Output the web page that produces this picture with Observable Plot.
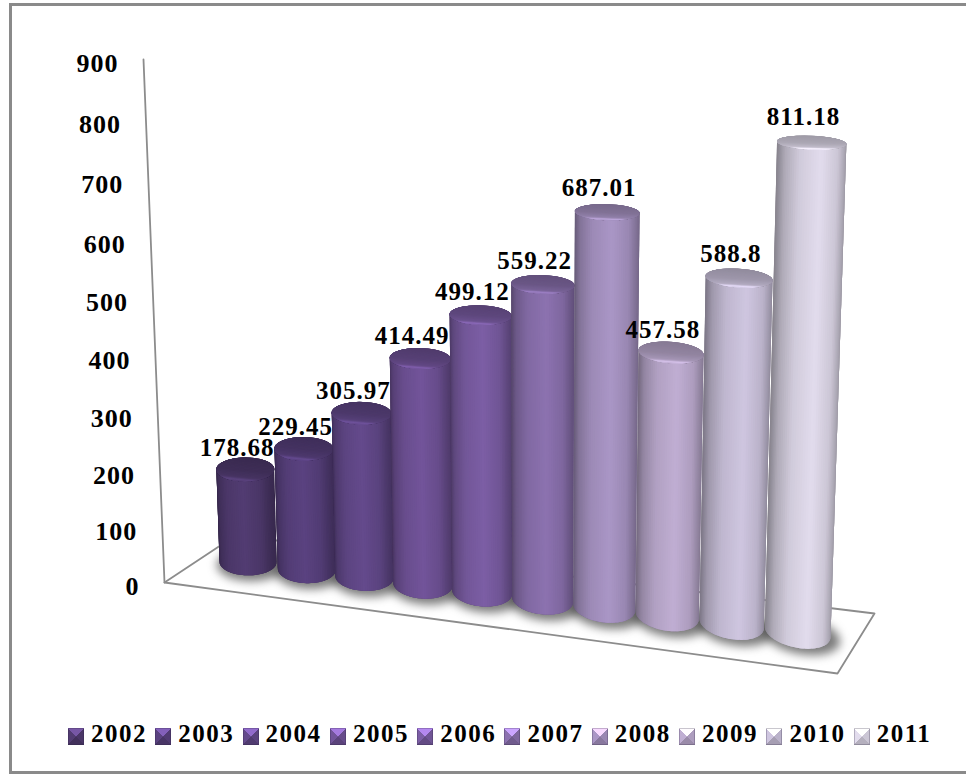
<!DOCTYPE html>
<html>
<head>
<meta charset="utf-8">
<script src="https://cdn.jsdelivr.net/npm/d3@7"></script>
<script src="https://cdn.jsdelivr.net/npm/@observablehq/plot@0.6"></script>
<style>
  html, body { margin: 0; padding: 0; background: #fff; overflow: hidden; }
  #page { position: relative; width: 966px; height: 774px; font-family: "Liberation Serif", serif; }
  #frame { position: absolute; left: 9px; top: 3px; right: -10px; bottom: 0; border: 3px solid #8a8a8a; border-left-width: 3.5px; pointer-events: none; box-sizing: border-box; }
  #chart svg { display: block; }
  #legend { position: absolute; left: 68px; top: 723px; display: flex; font-weight: bold; font-size: 25px; letter-spacing: 1.5px; line-height: 22px; color: #000; }
  #legend .item { width: 87.3px; display: flex; align-items: flex-end; white-space: nowrap; }
  #legend .swatch { width: 16px; height: 17px; margin-right: 7px; flex: none; box-shadow: inset 0 0 0 1px rgba(40,30,60,.25); }
</style>
</head>
<body>
<div id="page">
  <div id="frame"></div>
  <div id="chart"></div>
  <div id="legend"></div>
</div>
<script>
// Yearly totals shown as cylinders on a 3D floor
const years = [2002, 2003, 2004, 2005, 2006, 2007, 2008, 2009, 2010, 2011];
const values = [178.68, 229.45, 305.97, 414.49, 499.12, 559.22, 687.01, 457.58, 588.8, 811.18];
const valueTicks = [0, 100, 200, 300, 400, 500, 600, 700, 800, 900];
const palette = ["#523c72", "#5a4280", "#644a8c", "#72549a", "#7c5ea5", "#8c72b0",
                 "#aa96c6", "#c0aed3", "#cfc6e0", "#e2dced"];

// Scene: X runs along the years, Y is value / axis maximum, Z runs back across the floor.
const valueMax = 900;
const floor = {A: [164, 582], B: [837, 673], C: [874, 613], D: [235, 535]};
const axisTop = [143, 59];
const fade = -0.0536;

// Perspective projection built from the floor corners and the top of the value axis
function makeProjection({A, B, C, D}, top, k) {
  const dx1 = B[0] - C[0], dx2 = D[0] - C[0], sx = A[0] - B[0] + C[0] - D[0];
  const dy1 = B[1] - C[1], dy2 = D[1] - C[1], sy = A[1] - B[1] + C[1] - D[1];
  const den = dx1 * dy2 - dx2 * dy1;
  const g = (sx * dy2 - dx2 * sy) / den, h = (dx1 * sy - sx * dy1) / den;
  const a = B[0] - A[0] + g * B[0], b = D[0] - A[0] + h * D[0];
  const d = B[1] - A[1] + g * B[1], e = D[1] - A[1] + h * D[1];
  const ay = top[0] * (1 + k) - A[0], by = top[1] * (1 + k) - A[1];
  return (X, Y, Z) => {
    const w = 1 + g * X + k * Y + h * Z;
    return [(A[0] + a * X + ay * Y + b * Z) / w, (A[1] + d * X + by * Y + e * Z) / w];
  };
}
const project = makeProjection(floor, axisTop, fade);

// Bar layout along the floor
const place = new Map(years.map((y, i) => [y, i / (years.length - 1)]));
const slot = year => 0.076 + (0.918 - 0.076) * place.get(year) ** 0.97;
const radiusX = year => 0.0478 + (0.0445 - 0.0478) * place.get(year);
const radiusZ = 0.25, depthZ = 0.55, shearX = 0.067;
// Bars stand mid-floor, so their heights read a little shorter than the wall scale
const heightOf = v => 0.95 * v / valueMax;

// A point on the rim of a cylinder; the X term keeps the disc level on screen
const rim = (year, Y, angle, grow = 1) => {
  const oz = radiusZ * grow * Math.sin(angle);
  const X = slot(year) + radiusX(year) * grow * Math.cos(angle) - shearX * oz;
  return project(X, Y, depthZ + oz);
};

// Lighting across a body, left edge to right edge
const bodyLight = d3.scaleLinear([0, 0.1, 0.3, 0.6, 0.85, 1], [0.6, 0.77, 0.92, 1, 0.9, 0.7]).clamp(true);
// Lighting over a cap, back to front, ending in a bright rim
const capLight = d3.scaleLinear([0, 0.55, 0.84, 0.93, 1], [0.7, 0.76, 0.86, 1.12, 0.98]).clamp(true);
const tint = (color, f) => {
  const c = d3.rgb(color);
  return d3.rgb(Math.min(255, c.r * f), Math.min(255, c.g * f), Math.min(255, c.b * f)).formatHex();
};

const polys = [];
const pushPoly = (id, color, pts) => pts.forEach(([u, v]) => polys.push({id, color, u, v}));
const shadows = [];
years.forEach((year, i) => {
  const Y = heightOf(values[i]), base = palette[i];
  const discBase = d3.range(48).map(n => rim(year, 0, n / 48 * 2 * Math.PI));
  const discTop = d3.range(48).map(n => rim(year, Y, n / 48 * 2 * Math.PI));
  d3.range(48).forEach(n => {
    const [u, v] = rim(year, 0, n / 48 * 2 * Math.PI, 1.2);
    shadows.push({id: year, u: u + 3, v: v + 3});
  });
  // Silhouette first, so the strips never leave a gap at the edges
  pushPoly(`${year}-hull`, tint(base, 0.62), d3.polygonHull([...discBase, ...discTop]));
  // Each strip runs under the next one, which hides the seams
  const strips = 44;
  d3.range(strips).forEach(n => {
    const t0 = Math.PI + n / strips * Math.PI, t1 = Math.PI + Math.min(n + 2, strips) / strips * Math.PI;
    const p = (1 - Math.cos(t0 + Math.PI / strips / 2 - Math.PI)) / 2;
    pushPoly(`${year}-s${n}`, tint(base, bodyLight(p)),
      [rim(year, 0, t0), rim(year, 0, (t0 + t1) / 2), rim(year, 0, t1), rim(year, Y, t1), rim(year, Y, (t0 + t1) / 2), rim(year, Y, t0)]);
  });
  // Cap, drawn as chords from the back of the disc to the front; each band overlaps the next
  const bands = 26;
  d3.range(bands).forEach(n => {
    const t0 = Math.PI / 2 - n / bands * Math.PI;
    const sweep = d3.range(12).map(j => t0 - (j / 11) * (Math.PI - n / bands * Math.PI));
    const depth = (1 - Math.sin(t0 - Math.PI / bands / 2)) / 2;
    pushPoly(`${year}-c${n}`, tint(base, capLight(depth)),
      [...sweep.map(t => rim(year, Y, t)), ...sweep.slice().reverse().map(t => rim(year, Y, Math.PI - t))]);
  });
});

const labels = years.map((year, i) => {
  const [u, v] = project(slot(year), heightOf(values[i]) * 1.01, depthZ);
  return {u, v, text: String(values[i])};
});
const tickMarks = valueTicks.map(t => {
  const [u, v] = project(0, t / valueMax, 0);
  return {u, v, text: String(t)};
});
const lineOf = pts => pts.map(([u, v]) => ({u, v}));
const axisLine = lineOf([project(0, 1, 0), project(0, 0, 0)]);
const floorLine = lineOf([project(0, 0, 1), project(0, 0, 0), project(1, 0, 0), project(1, 0, 1), project(0, 0, 1)]);

const chart = Plot.plot({
  width: 966,
  height: 700,
  margin: 0,
  x: {type: "linear", domain: [0, 966], range: [0, 966], axis: null},
  y: {type: "linear", domain: [0, 700], range: [0, 700], axis: null},
  color: {type: "identity"},
  style: {background: "transparent", fontFamily: "'Liberation Serif', serif", fontWeight: "bold", letterSpacing: "1px"},
  marks: [
    Plot.line(floorLine, {x: "u", y: "v", stroke: "#8c8c8c", strokeWidth: 1.8}),
    Plot.line(axisLine, {x: "u", y: "v", stroke: "#8c8c8c", strokeWidth: 1.8}),
    Plot.line(shadows, {x: "u", y: "v", z: "id", curve: "linear-closed", fill: "#444", fillOpacity: 0.7, stroke: "none", imageFilter: "blur(5px)"}),
    Plot.line(polys, {x: "u", y: "v", z: "id", curve: "linear-closed", fill: "color", stroke: "none"}),
    Plot.text(tickMarks, {x: "u", y: "v", text: "text", textAnchor: "end", dx: -25, dy: 4, fontSize: 26, fill: "#000"}),
    Plot.text(labels, {x: "u", y: "v", text: "text", dx: -8, dy: -20, fontSize: 25, fill: "#000"})
  ]
});
document.getElementById("chart").append(chart);

// Legend row: one bevelled square per year
const legend = d3.select("#legend");
years.forEach((year, i) => {
  const base = palette[i];
  const item = legend.append("div").attr("class", "item");
  item.append("span").attr("class", "swatch").style("background",
    `conic-gradient(from -45deg, ${tint(base, 1.45)} 0 25%, ${tint(base, 0.9)} 0 50%, ${tint(base, 0.8)} 0 75%, ${tint(base, 1)} 0 100%)`);
  item.append("span").text(year);
});
</script>
</body>
</html>
